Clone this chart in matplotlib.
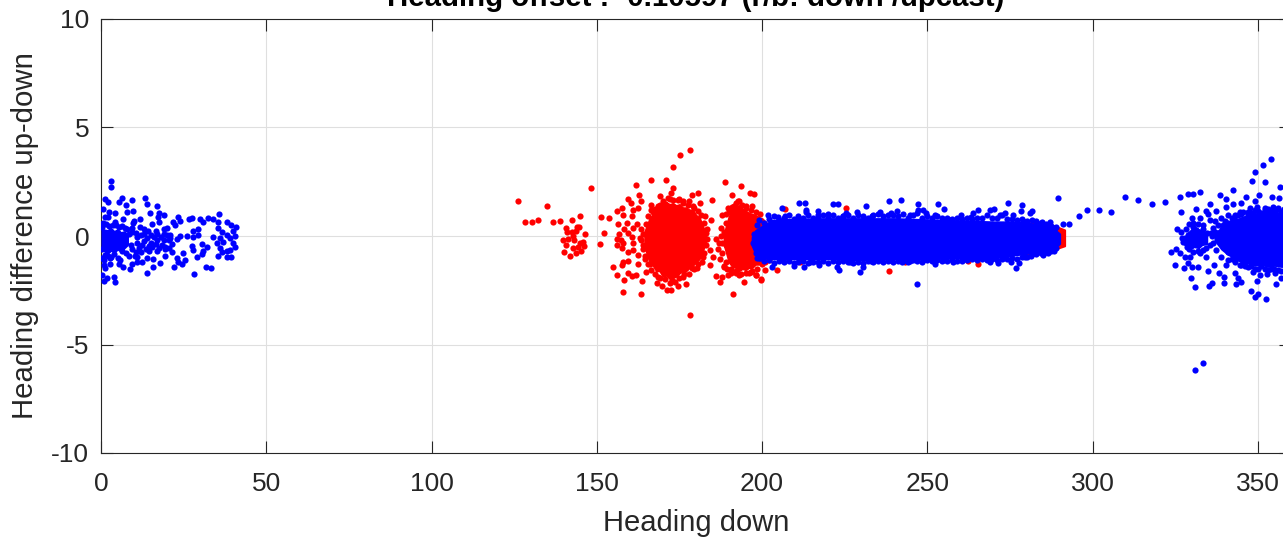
import numpy as np
import matplotlib
matplotlib.use("Agg")
import matplotlib.pyplot as plt

plt.rcParams['font.family'] = ['Liberation Sans', 'DejaVu Sans']
plt.rcParams['axes.unicode_minus'] = False

TITLE = "Heading offset : -0.10597 (r/b: down /upcast)"
XLABEL = "Heading down"
YLABEL = "Heading difference up-down"
x_ticks = [0, 50, 100, 150, 200, 250, 300, 350]
y_ticks = [-10, -5, 0, 5, 10]

# Individually distinguishable points (heading down, difference)
red_points = [
    (126.3,1.63),(135.0,1.40),(128.3,.63),(130.5,.63),(132.1,.74),(136.8,.65),(139.0,.69),(142.6,.75),(144.8,.94),(148.2,2.2),
    (140.7,.35),(143.9,.4),(144.5,.4),(140.9,.2),(142.4,.2),(143.7,.25),(146.4,.09),(139.9,-.2),(141.4,-.15),(142.9,0),
    (143.1,-.18),(140.6,-.43),(144.9,-.34),(145.9,-.26),(146.1,-.46),(142.7,-.57),(143.7,-.77),(145.3,-.69),(140.1,-.72),(141.9,-.92),(144.4,-.52),
    (151.2,.86),(153.6,.85),(152.2,.12),(151,-.38),
    (161.9,2.33),(166.3,2.58),(170.8,2.6),(173,3.18),(175.3,3.75),(178.3,3.98),(178.2,-3.63),(172.9,2.2),(162.8,1.87),(159.5,1.69),
    (160.2,1.5),(163.5,1.6),(157.7,1.27),(156.2,1.14),(160.8,1.2),(162.6,1.29),(158,.97),(160.5,.94),(156.5,.54),(159,.58),
    (158.2,.31),(162.2,.54),(160.8,.35),(159.5,.12),(156.8,.08),(160.5,-.06),(156.2,-.14),(157.2,-.18),(156,-.4),(158,-.34),
    (157.5,-.57),(161,-.34),(159.5,-.72),(161,-.65),(162.5,-.88),(158,-1.18),(157.7,-1.34),(159.5,-1.15),(154.8,-1.44),(156.2,-1.78),
    (159.4,-1.69),(160.5,-1.83),(161.9,-1.78),(158.1,-2.03),(163.8,-2.09),(158,-2.6),(163.5,-2.69),(165,-1.64),(164.6,-1.06),(168.1,-2.15),
    (169.6,-2.32),(171.1,-2.5),(172.3,-2.47),(174.6,-2.32),(177.1,-2.21),(172.6,-2.03),(168.6,-1.87),(170.6,-1.72),(173.4,-1.8),(176.1,-1.9),
    (180.2,-1.49),(178.7,-1.49),(182.2,-.98),(184.2,-.66),(184.2,-1.34),(185.2,-.98),(186.2,-.14),(183.4,-.12),(183,.12),(184.6,.74),
    (184.7,1.66),(182.8,.92),(180.6,1.98),(178.9,1.89),(181.2,1.5),(178,1.63),(175,1.71),(169.1,1.86),(166.4,1.43),(172.3,1.97),
    (172.1,1.69),(170.6,1.47),(163.5,.3),(164,-.4),(163,-.1),(162.5,-1.3),(166,-1.3),(167,1.1),(168.5,1.4),(176,1.5),(179.5,1.3),
    (188.7,2.5),(193.7,2.32),(190.8,1.89),(196.3,2.0),(197.6,1.95),(192.6,1.6),(189.8,1.27),(197,1.4),(186,-1.83),(187.4,-2.14),
    (191.2,-2.69),(189.8,-1.8),(188,-1.9),(194.6,-2.1),(198.1,-1.8),(199.6,-2.03),(187.2,-1.07),(188.4,-1.41),(186.7,-.6),(187.7,.35),
    (188,.97),(189,.6),(189,-.4),(189,-1.2),(190.5,1.2),(191.5,1.4),(193,1.3),(195,1.4),(190.5,-1.5),(192,-1.7),(193.5,-1.75),(196,-1.7),
    (211.4,-1.2),(207,1.25),(225.5,1.3),(238.4,-1.62),(265.2,-1.3),(262.3,-1.15),(243.2,-1.2),(201,-1.55),(204.4,-1.55),
    (199.6,-2.0),(198.1,-1.8),(196.6,-1.68),
    # edge of the dense red blob
    (165.5,.9),(166.5,1.2),(167.5,1.25),(169,1.45),(170,1.6),(171.5,1.75),(173,1.65),(174.5,1.65),(176,1.6),(177.5,1.45),
    (179,1.4),(180.5,1.15),(181.5,.95),(182.5,.6),(183.3,.3),(183,-.4),(182.5,-.8),(181.8,-1.2),(180.5,-1.3),(179.5,-1.5),
    (178,-1.75),(176.5,-1.75),(175,-1.95),(173.5,-2.1),(172,-2.15),(170.5,-2.0),(169,-1.95),(167.5,-1.75),(166.5,-1.55),(165.5,-1.3),
    (164.5,-.9),(164,-.6),(163.5,-.2),(164,.1),(165,.55),(167.7,.95),
    # edge of the second red blob
    (188.5,.2),(189,1),(190,1.1),(191,1.35),(192,1.5),(193,1.6),(194,1.45),(195,1.3),(196.5,1.2),(198,1.1),
    (199.5,1.0),(188,-.3),(188,-.8),(188.5,-1.4),(189.5,-1.5),(190.5,-1.7),(192,-1.6),(193,-1.8),(195,-1.7),(197,-1.6),
    (198.5,-1.5),(200,-1.3),(201,-1.2),(202,-1.1),(187.5,0),(187,-.3),
]
blue_points = [
    # left cluster
    (2.9,2.55),(3.1,2.24),(1.2,1.69),(2,1.58),(6.3,1.76),(5.3,1.55),(13.3,1.76),(13.8,1.46),(17,1.38),(9.4,1.66),
    (7.6,1.41),(9.8,1.17),(7.8,1.09),(.5,1.24),(2.5,1.09),(4.2,1.04),(1.2,.89),(2.2,.86),(6.6,.77),(10,.7),
    (11.8,.77),(14.8,1.04),(17.4,1.04),(19.2,.97),(17.2,.89),(17.4,.63),(15.3,.55),(21.9,.63),(22.4,.5),(23.4,.86),
    (23.9,.7),(26.7,.77),(27.6,.81),(30,.77),(31,.63),(32.5,.81),(34,.77),(35.5,.63),(35.6,1),(38,.63),
    (39.3,.5),(40.7,.43),(20.1,.35),(14.3,.23),(16.6,.23),(11.8,.43),(9.8,.58),(7.3,.35),(4.2,.66),(27.9,.23),
    (29.2,.31),(26,0),(23.9,0),(22.9,-.14),(27.9,-.06),(29.4,.04),(33.8,-.06),(35.5,.35),(36.5,.2),(38,.04),
    (40,.24),(40.5,0),(40,-.34),(40.5,-.49),(36,-.11),(35,-.34),(37,-.26),(39,-.11),(36,-.57),(38,-.68),
    (39,-.65),(35.3,-.92),(38,-.99),(39.2,-.99),(36.5,-.72),(30.5,-.37),(32,-.52),(30.8,-.68),(30.6,-.83),(29,-.99),
    (27.6,-.46),(27.9,-.65),(24.7,-.8),(25.4,-1.11),(22.9,-1),(23.4,-1.18),(24.4,-1.29),(22,-1.42),(31.7,-1.42),(33.2,-1.46),
    (28.1,-1.77),(13.8,-1.72),(15.6,-1.45),(17.9,-1.23),(19.4,-.91),(21.6,-.72),(8.7,-1.54),(6.6,-1.45),(5.3,-1.29),(2.7,-1.29),
    (.9,-1.34),(1.2,-1.49),(.4,-1.8),(1.9,-1.95),(.9,-2.06),(4,-1.88),(4.2,-2.11),(9.3,-1.29),(10.8,-1.18),(12.3,-1.18),
    (13.8,-1.03),(15.8,-1.08),(10.3,-.92),(2.7,-1.03),(5.8,-1.11),(1.2,-.88),(12,-.75),(14.5,-.7),(17,-.7),(19.5,-.5),
    (20.5,-.2),(21,.05),(19,.3),(13,.3),(9.5,.35),(11,-.95),(.2,.4),(.2,-.6),(.3,-1),
    (.5,.6),(1.5,.55),(2.5,.45),(3.5,.5),(4.5,.5),(5.5,.4),(6.5,.45),(8,.3),(8.5,.1),(9.5,.2),
    (10.5,.15),(11,-.05),(12,.05),(13,.1),(14,-.1),(15,.05),(16,-.05),(17,.1),(18,-.05),(19,.1),
    (20,.05),(6.5,-.7),(7.5,-.8),(8.5,-.9),(9.5,-.6),(10.5,-.75),(11.5,-.55),(12.5,-.4),(13.5,-.6),(14.5,-.45),
    (15.5,-.5),(16.5,-.35),(17.5,-.55),(18.5,-.4),(19.5,-.6),(20.5,-.55),(21.5,-.35),(7,-.3),(9,-.4),(11,-.3),
    (13,-.25),(15,-.3),(17,-.2),(19,-.2),(21,-.1),(3,-.95),(4,-.85),(5,-1),(1,-1.1),(2,-.9),
    # fringe of the main band
    (201.8,.97),(205.9,1.28),(211.1,1.54),(212.9,1.54),(213.2,1.12),(217,1.15),(221.5,1.46),(223.1,1.46),(231.3,1.38),(238.4,1.6),
    (242,1.64),(247.2,1.49),(253.2,1.48),(255,1.23),(289.5,1.77),(274.3,1.54),(278.5,1.41),(278.2,1.14),(281.5,1.17),(281,1.05),
    (270.2,1.23),(268.9,1.2),(265.4,1.2),(263.8,1.05),(260.3,.95),(247.2,1.2),(248.7,1.2),(249.7,1.05),(240.7,1.17),(239.1,1.08),
    (235.6,1.12),(228.6,1.12),(225.5,1.05),(224.5,.92),(220,1.01),(213.4,1.2),(211.4,.74),(206.9,.92),(204.9,.89),(217,.97),
    (233.1,.92),(244.7,.97),(252.2,.97),(256.8,.74),(263.3,.89),(271.9,.97),(273.4,1.05),(275.9,.97),(278.9,.71),(283,.71),
    (284.8,.66),(287.2,.63),(290.9,.55),(292.9,.54),(288.5,.35),
    (202.9,-1.41),(209.7,-1.38),(212.7,-1.41),(217.2,-1.34),(222.7,-1.44),(223.3,-1.57),(229.6,-1.64),(230.6,-1.44),(232.9,-1.14),(235.1,-1.11),
    (242.2,-1.21),(244.7,-1.14),(252.2,-1.29),(247,-2.23),(257.8,-1.18),(260.5,-1.14),(268.9,-1.18),(271.4,-1.23),(275.4,-1.18),(276.9,-1.49),
    (277.7,-1.23),(281.3,-.92),(285,-.88),(286.5,-.8),(288.2,-.68),(199.3,-1.03),(206.4,-1.11),(214.4,-1.18),(226.5,-1.18),(238.6,-1.11),
    (248.7,-1.11),(254.8,-1.11),(264.8,-1.03),(272.9,-1.03),(279.6,-.95),
    # top edge of the main band
    (199,.75),(200.5,.6),(202,.8),(203.5,.9),(205,.75),(206.5,.85),(208,.95),(209.5,.8),(211,.9),(212.5,.85),
    (214,.95),(215.5,.85),(217,.85),(218.5,.95),(220,.85),(221.5,.95),(223,.85),(224.5,.9),(226,.95),(227.5,.85),
    (229,.95),(230.5,.9),(232,.85),(233.5,.95),(235,1.0),(236.5,.9),(238,.95),(239.5,.95),(241,.9),(242.5,1.0),
    (244,.85),(245.5,.95),(247,1.05),(248.5,.85),(250,.9),(251.5,.85),(253,.9),(254.5,.85),(256,.85),(257.5,.8),
    (259,.85),(260.5,.8),(262,.85),(263.5,.8),(265,.85),(266.5,.85),(268,.95),(269.5,.85),(271,.85),(272.5,.95),
    (274,.8),(275.5,.8),(277,.75),(278.5,.8),(280,.7),(281.5,.75),(283,.65),(284.5,.6),(286,.55),(287.5,.45),(289,.4),
    # bottom edge of the main band
    (199,-1.0),(200.5,-1.15),(202,-1.1),(203.5,-1.25),(205,-1.15),(206.5,-1.2),(208,-1.15),(209.5,-1.25),(211,-1.2),(212.5,-1.15),
    (214,-1.25),(215.5,-1.2),(217,-1.2),(218.5,-1.15),(220,-1.25),(221.5,-1.15),(223,-1.2),(224.5,-1.15),(226,-1.2),(227.5,-1.25),
    (229,-1.2),(230.5,-1.25),(232,-1.15),(233.5,-1.2),(235,-1.15),(236.5,-1.2),(238,-1.15),(239.5,-1.2),(241,-1.15),(242.5,-1.15),
    (244,-1.2),(245.5,-1.1),(247,-1.15),(248.5,-1.2),(250,-1.1),(251.5,-1.15),(253,-1.1),(254.5,-1.15),(256,-1.15),(257.5,-1.1),
    (259,-1.15),(260.5,-1.05),(262,-1.1),(263.5,-1.05),(265,-1.1),(266.5,-1.05),(268,-1.1),(269.5,-1.05),(271,-1.1),(272.5,-1.05),
    (274,-1.05),(275.5,-1.0),(277,-1.05),(278.5,-.95),(280,-.95),(281.5,-.85),(283,-.85),(284.5,-.8),(286,-.75),(287.5,-.7),(289,-.55),
    (197.5,.1),(197.2,-.3),(198,-.8),(198.5,-1),(198.5,.5),
    # right cluster
    (295.8,.9),(298.4,1.2),(302,1.21),(305.4,1.1),(309.9,1.78),(313.8,1.67),(318.1,1.47),(322,1.58),(326.5,1.81),(328.7,1.93),
    (330.3,1.95),(332.6,2.04),(338.5,1.9),(342.6,2.12),(346.3,1.81),(350.2,1.9),(348.3,2.53),(349,2.95),(351.6,3.25),(354,3.56),
    (352,2.47),(356.7,2.24),(354.4,1.81),(356.3,1.73),(349,1.63),(344.9,1.5),(342.6,1.49),(340.2,1.7),(340.3,1.35),(335.6,1.46),
    (326.7,1.12),(331.4,1.24),(334.4,1.16),(334.9,1.01),(337.3,1.13),(341,.99),(343,.99),(344.5,1.12),(347.5,1.27),(349.7,1.35),
    (354.6,1.35),(353.4,1.16),(329.9,.83),(332.4,.81),(335.4,.73),(338.9,.84),(325.6,.34),(326.8,.2),(327.1,-.11),(327.3,-.26),
    (323.6,-.72),(325.3,-.62),(326.3,-.8),(327.8,-.95),(325,-1.34),(327.5,-1.48),(330.2,-1.42),(332,-1.45),(328.9,-1.26),(329.7,-1.95),
    (330.9,-2.35),(334.9,-1.6),(336.7,-1.32),(335.1,-2.31),(336,-2.15),(338.2,-1.69),(339.6,-1.91),(339.8,-2.15),(343,-1.71),(344,-1.92),
    (343.5,-2.2),(344.9,-2.11),(348,-2.55),(349,-2.83),(349.9,-2.69),(352.3,-2.89),(349.6,-2.08),(350.5,-1.8),(352.8,-1.75),(355.6,-2.23),
    (356.9,-1.95),(355.3,-1.71),(348.5,-1.65),(331.1,-6.19),(333.5,-5.87),(328.9,.04),(331.4,.27),(333.4,-.19),(332.4,-.8),(336.4,.35),
    (337.4,-.65),(329.4,-.95),(334.4,-.95),(338.9,-.95),(340.4,-1.34),(344.5,-1.34),(333.4,.5),(330.4,.43),(328.4,-.5),(335.9,.12),
    (338.4,-.11),(339.4,.5),(342,.66),(334.4,-.57),(331.4,-.42),(329.9,-.19),(332.4,-.03),(341,-1.1),(343,-.95),(337,.7),
    (358.5,1.4),(358,-1.6),(359.5,-1.3),(345.5,1.1),(347,.95),(352,1.2),(356,1.3),(346,-1.4),(352,-1.5),(354,-1.5),
    (338,.5),(339,.3),(340,.7),(341,.6),(342,.85),(343,.75),(344,.95),(345,1.0),(346,.8),(347,1.1),
    (348,1.05),(349,1.2),(350,1.15),(351,1.05),(352,1.3),(353,1.25),(355,1.2),(356,1.25),(357,1.1),(358,1.25),
    (360,1.2),(341,-.75),(342,-1.05),(343,-1.2),(344,-1.0),(345,-1.35),(346,-1.2),(347,-1.45),(348,-1.4),(349,-1.5),
    (350,-1.5),(351,-1.4),(353,-1.55),(355,-1.5),(356,-1.55),(357,-1.6),(359,-1.5),(337,.2),(336.5,-.3),(335.5,-.4),
    (336,0),(328.2,.3),(329,.55),(330.5,.6),(332,.55),(333.5,.3),(334.5,.15),(328,-.1),(328.2,-.3),(329.2,-.6),
    (330.5,-.75),(332,-.7),(333.5,-.65),
]

# Overplotted solid cores: envelopes (heading, low, high)
red_core_x    = [164.5, 166, 167, 168, 169, 170, 171, 172, 173, 174, 175, 176, 177, 178, 179, 180, 181, 182, 183]
red_core_low  = [-.5, -1.2, -1.35, -1.6, -1.6, -1.85, -1.8, -1.95, -1.85, -1.85, -1.7, -1.6, -1.6, -1.45, -1.35, -1.2, -1.05, -.7, -.2]
red_core_high = [.2, .8, 1.0, 1.1, 1.3, 1.35, 1.55, 1.45, 1.5, 1.4, 1.45, 1.3, 1.3, 1.2, 1.2, .95, .85, .45, .1]

red_mid_x    = [188.5, 190, 191, 192, 193, 194, 195, 196, 197, 198, 199, 200, 202]
red_mid_low  = [-.4, -1.2, -1.4, -1.45, -1.6, -1.5, -1.55, -1.45, -1.45, -1.3, -1.3, -1.1, -.9]
red_mid_high = [.1, .9, 1.15, 1.3, 1.4, 1.25, 1.15, 1.05, 1.0, .95, .85, .8, .5]

red_end_x    = [280, 287, 291.5]
red_end_low  = [-.85, -.68, -.45]
red_end_high = [.62, .55, .28]

band_x    = [197, 198, 200, 203, 210, 220, 230, 240, 250, 260, 270, 275, 280, 285, 288, 290]
band_low  = [-.45, -.8, -1.0, -1.05, -1.05, -1.05, -1.1, -1.05, -1.05, -1.0, -1.0, -.9, -.8, -.7, -.6, -.35]
band_high = [-.05, .25, .45, .72, .78, .8, .8, .8, .75, .7, .65, .65, .6, .5, .35, .1]

left_core_x    = [.3, 2, 3, 4, 5, 6, 7, 8]
left_core_low  = [-.6, -.8, -.65, -.75, -.6, -.7, -.55, -.4]
left_core_high = [.3, .25, .35, .2, .3, .15, .2, .05]

right_a_x    = [328.5, 330, 331, 332, 333, 334.5]
right_a_low  = [-.3, -.55, -.45, -.55, -.4, -.35]
right_a_high = [.1, .3, .4, .3, .25, .05]

right_core_x    = [337, 339, 341, 343, 345, 347, 349, 351, 353, 355, 357, 361]
right_core_low  = [-.2, -.6, -.85, -1.0, -1.2, -1.25, -1.35, -1.3, -1.4, -1.35, -1.4, -1.4]
right_core_high = [.15, .35, .55, .7, .85, .95, 1.05, .95, 1.15, 1.1, 1.05, 1.1]

RED, BLUE = '#ff0000', '#0000ff'
W, H = 1283, 538
fig = plt.figure(figsize=(W / 100, H / 100), dpi=100, facecolor='white')
ax = fig.add_axes([101 / W, (H - 453) / H, 1190 / W, 434 / H])

ax.set_axisbelow(True)
ax.grid(True, color='#dfdfdf', lw=0.8)

MS = 20
for xs, lo, hi in [(red_core_x, red_core_low, red_core_high),
                   (red_mid_x, red_mid_low, red_mid_high),
                   (red_end_x, red_end_low, red_end_high)]:
    ax.fill_between(xs, lo, hi, color=RED, lw=1.5, zorder=2)
rp = np.array(red_points)
ax.scatter(rp[:, 0], rp[:, 1], s=MS, c=RED, lw=0, zorder=2)

for xs, lo, hi in [(band_x, band_low, band_high),
                   (left_core_x, left_core_low, left_core_high),
                   (right_a_x, right_a_low, right_a_high),
                   (right_core_x, right_core_low, right_core_high)]:
    ax.fill_between(xs, lo, hi, color=BLUE, lw=1.5, zorder=3)
bp = np.array(blue_points)
ax.scatter(bp[:, 0], bp[:, 1], s=MS, c=BLUE, lw=0, zorder=3)

ax.set_xlim(0, 360)
ax.set_ylim(-10, 10)
ax.set_xticks(x_ticks)
ax.set_yticks(y_ticks)
ax.tick_params(axis='both', which='major', direction='in', length=8.6, width=0.8,
               color='#262626', labelcolor='#262626', labelsize=19,
               top=True, right=True)
ax.tick_params(axis='x', pad=13.5)
ax.tick_params(axis='y', pad=8.5)
for s in ax.spines.values():
    s.set_color('#262626')
    s.set_linewidth(0.8)

ax.set_xlabel(XLABEL, fontsize=21, color='#262626', labelpad=9.5)
ax.set_ylabel(YLABEL, fontsize=21.2, color='#262626', labelpad=9)
ax.set_title(TITLE, fontsize=21.2, fontweight='bold', color='black', pad=9)

fig.savefig('out.png', dpi=100)
